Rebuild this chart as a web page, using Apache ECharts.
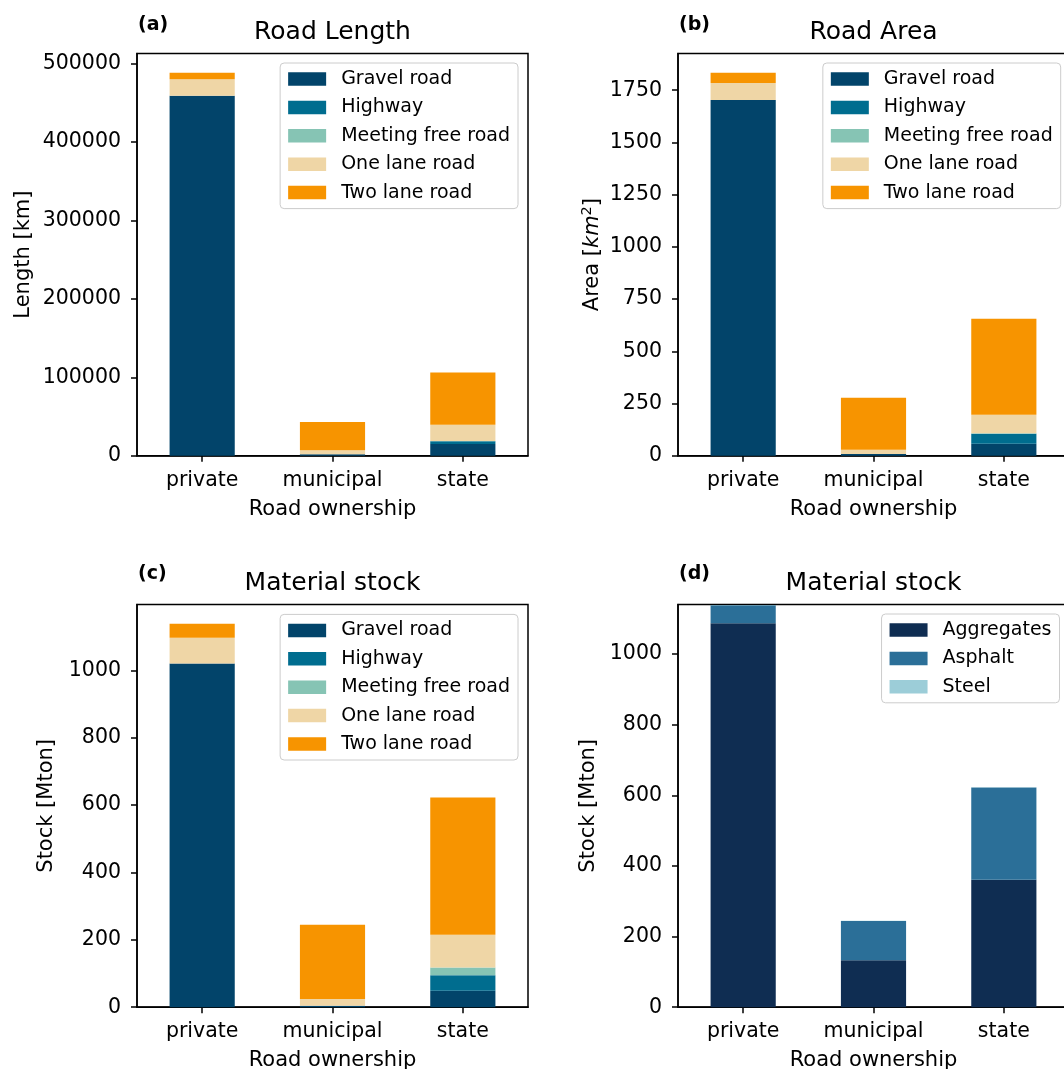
<!DOCTYPE html>
<html>
<head>
<meta charset="utf-8">
<title>Road network: length, area and material stock by ownership</title>
<script src="https://cdn.jsdelivr.net/npm/echarts@6/dist/echarts.min.js"></script>
<style>
  html, body { margin: 0; padding: 0; background: #fff; }
  #chart { width: 1064px; height: 1069px; }
</style>
</head>
<body>
<div id="chart"></div>
<script>
// Categories
const owners = ['private', 'municipal', 'state'];
const roadTypes = ['Gravel road', 'Highway', 'Meeting free road', 'One lane road', 'Two lane road'];
const materials = ['Aggregates', 'Asphalt', 'Steel'];

// (a) Road length [km], one row per road type, columns = private, municipal, state
const lengthKm = [
  [459000, 2000, 15000],
  [0, 0, 3500],
  [0, 0, 300],
  [20800, 5000, 20700],
  [8500, 36100, 66500]
];

// (b) Road area [km2]
const areaKm2 = [
  [1703, 8, 57],
  [0, 0, 48],
  [0, 0, 2],
  [82, 21, 89],
  [49, 249, 460]
];

// (c) Material stock by road type [Mton]
const stockByRoad = [
  [1020, 4, 49],
  [0, 0, 46],
  [0, 0, 23],
  [76.5, 20, 97],
  [42, 221, 407.5]
];

// (d) Material stock by material [Mton]
const stockByMaterial = [
  [1087, 133, 361],
  [51, 111, 261],
  [0.5, 1, 0.5]
];

// Tick values for each value axis
const ticksLength = [0, 100000, 200000, 300000, 400000, 500000];
const ticksArea = [0, 250, 500, 750, 1000, 1250, 1500, 1750];
const ticksStock = [0, 200, 400, 600, 800, 1000];

const roadColors = ['#02446A', '#006D8F', '#86C4B4', '#EFD6A6', '#F79400'];
const materialColors = ['#0F2D52', '#2B6F98', '#9CCDD8'];

const FONT = '"DejaVu Sans", "Liberation Sans", sans-serif';

// Panel frames: [left, top, width, height]
const frames = [
  [137, 53.5, 391, 402.2],
  [678, 53.5, 391, 402.2],
  [137, 604.5, 391, 402.7],
  [678, 604.5, 391, 402.7]
];

const grids = frames.map(f => ({
  left: f[0], top: f[1], width: f[2], height: f[3],
  containLabel: false,
  outerBoundsMode: 'none',
  show: true,
  borderColor: '#000',
  borderWidth: 1.5,
  backgroundColor: 'transparent'
}));

const xAxes = frames.map((f, i) => ({
  type: 'category',
  gridIndex: i,
  data: owners,
  boundaryGap: true,
  name: 'Road ownership',
  nameLocation: 'middle',
  nameGap: 43,
  nameTextStyle: { fontFamily: FONT, fontSize: 21, color: '#000' },
  axisLine: { show: true, lineStyle: { color: '#000', width: 1.5 } },
  axisTick: { show: true, alignWithLabel: true, length: 6, lineStyle: { color: '#000', width: 1.5 } },
  axisLabel: { interval: 0, margin: 14, fontFamily: FONT, fontSize: 20.5, color: '#000' },
  splitLine: { show: false }
}));

function valueAxis(i, max, ticks, name, gap, extra) {
  return Object.assign({
    type: 'value',
    gridIndex: i,
    min: 0,
    max: max,
    name: name,
    nameLocation: 'middle',
    nameRotate: 90,
    nameGap: gap,
    nameTextStyle: { fontFamily: FONT, fontSize: 21, color: '#000' },
    axisLine: { show: true, lineStyle: { color: '#000', width: 1.5 } },
    axisTick: { show: true, length: 6, customValues: ticks, lineStyle: { color: '#000', width: 1.5 } },
    axisLabel: {
      margin: 16, customValues: ticks, fontFamily: FONT, fontSize: 20.5, color: '#000',
      formatter: v => String(v)
    },
    splitLine: { show: false }
  }, extra || {});
}

const yAxes = [
  valueAxis(0, 512700, ticksLength, 'Length [km]', 103),
  valueAxis(1, 1925.7, ticksArea, 'Area [{i|km}{s|2}]', 72, {
    nameTextStyle: {
      fontFamily: FONT, fontSize: 21, color: '#000', lineHeight: 26,
      rich: {
        i: { fontFamily: FONT, fontSize: 21, fontStyle: 'italic', color: '#000', lineHeight: 26 },
        s: { fontFamily: FONT, fontSize: 14.5, color: '#000', verticalAlign: 'top', lineHeight: 26 }
      }
    }
  }),
  valueAxis(2, 1195.5, ticksStock, 'Stock [Mton]', 80),
  valueAxis(3, 1140, ticksStock, 'Stock [Mton]', 79)
];

function stackSeries(names, colors, rows, panel) {
  return names.map((n, k) => ({
    type: 'bar',
    name: n,
    xAxisIndex: panel,
    yAxisIndex: panel,
    stack: 'panel' + panel,
    barWidth: '50%',
    itemStyle: { color: colors[k] },
    emphasis: { disabled: true },
    data: rows[k]
  }));
}

function legendAt(names, right, top) {
  return {
    data: names,
    orient: 'vertical',
    right: right,
    top: top,
    padding: [6, 8, 6, 8],
    itemWidth: 38,
    itemHeight: 13.5,
    itemGap: 8.4,
    icon: 'rect',
    selectedMode: false,
    backgroundColor: 'rgba(255,255,255,0.8)',
    borderColor: '#cccccc',
    borderWidth: 1,
    borderRadius: 4,
    textStyle: { fontFamily: FONT, fontSize: 19, color: '#000', lineHeight: 20, padding: [0, 0, 0, 10] }
  };
}

const series = [].concat(
  stackSeries(roadTypes, roadColors, lengthKm, 0),
  stackSeries(roadTypes, roadColors, areaKm2, 1),
  stackSeries(roadTypes, roadColors, stockByRoad, 2),
  stackSeries(materials, materialColors, stockByMaterial, 3)
);

const legends = [
  legendAt(roadTypes, 546, 63),
  legendAt(roadTypes, 3.3, 63),
  legendAt(roadTypes, 546, 614.4),
  legendAt(materials, 4.5, 614)
];

function label(text, x, y, font, align) {
  return {
    type: 'text',
    x: x, y: y,
    silent: true,
    style: {
      text: text, font: font, fill: '#000',
      align: align, textAlign: align,
      verticalAlign: 'middle', textVerticalAlign: 'middle'
    }
  };
}

const titleFont = '25px ' + FONT;
const tagFont = 'bold 19px ' + FONT;

const graphic = [
  label('Road Length', 332.5, 32.8, titleFont, 'center'),
  label('Road Area', 873.5, 32.8, titleFont, 'center'),
  label('Material stock', 332.5, 583.3, titleFont, 'center'),
  label('Material stock', 873.5, 583.3, titleFont, 'center'),
  label('(a)', 138, 25, tagFont, 'left'),
  label('(b)', 679, 25, tagFont, 'left'),
  label('(c)', 138, 574, tagFont, 'left'),
  label('(d)', 679, 574, tagFont, 'left')
];

const chart = echarts.init(document.getElementById('chart'), null, { renderer: 'canvas' });
chart.setOption({
  animation: false,
  backgroundColor: '#fff',
  textStyle: { fontFamily: FONT },
  grid: grids,
  xAxis: xAxes,
  yAxis: yAxes,
  legend: legends,
  graphic: graphic,
  series: series
});
</script>
</body>
</html>
